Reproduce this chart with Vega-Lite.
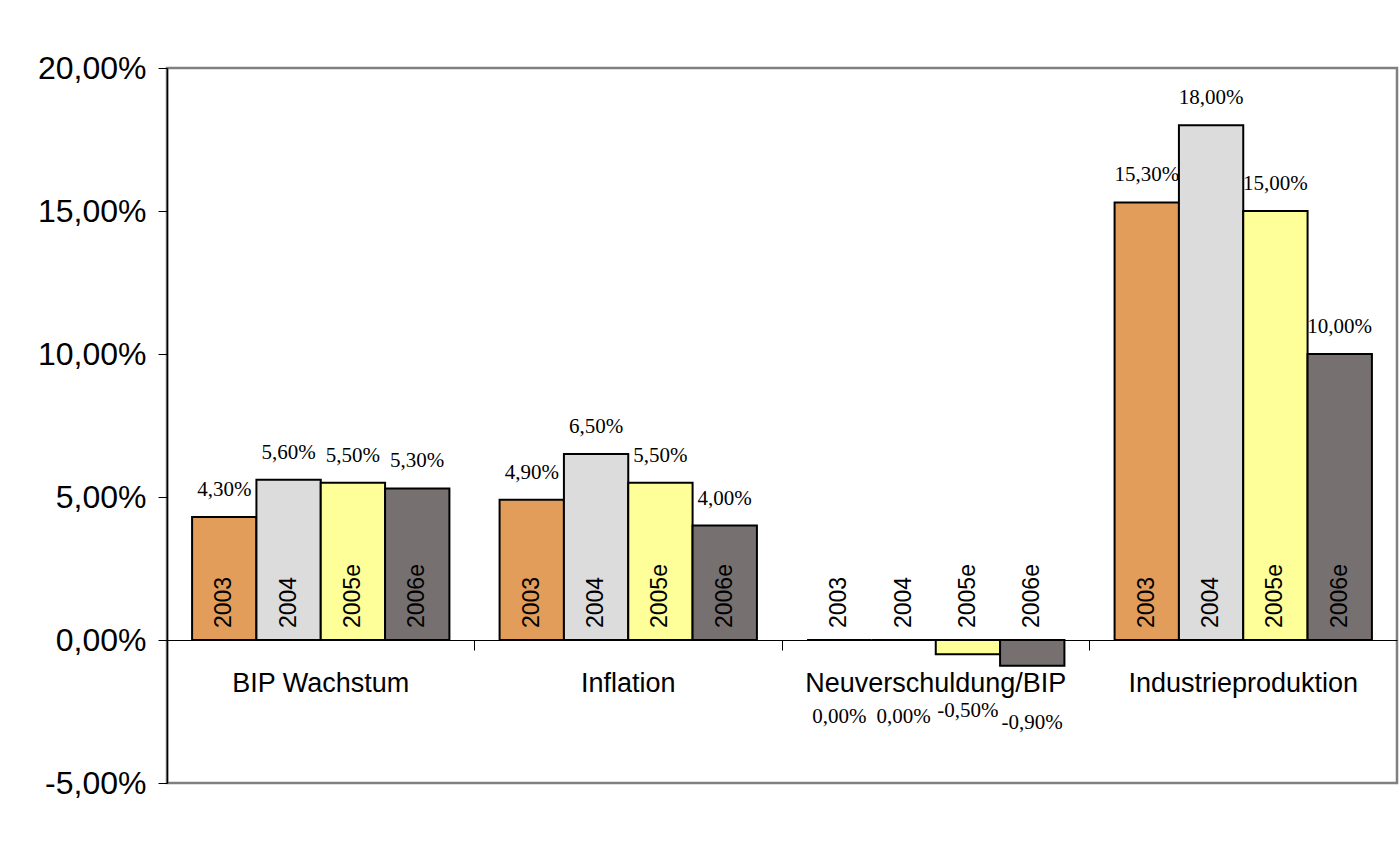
{
  "$schema": "https://vega.github.io/schema/vega-lite/v6.json",
  "width": 1230,
  "height": 715,
  "autosize": {"type": "none"},
  "padding": {"left": 167, "top": 68, "right": 2, "bottom": 60},
  "background": "white",
  "config": {
    "locale": {
      "number": {
        "decimal": ",",
        "thousands": ".",
        "grouping": [3],
        "currency": ["", " €"],
        "minus": "-"
      }
    },
    "view": {"stroke": "#808080", "strokeWidth": 2.5},
    "axis": {"grid": false}
  },
  "data": {
    "values": [
      {"indicator": "BIP Wachstum", "year": "2003", "value": 0.043},
      {"indicator": "BIP Wachstum", "year": "2004", "value": 0.056},
      {"indicator": "BIP Wachstum", "year": "2005e", "value": 0.055},
      {"indicator": "BIP Wachstum", "year": "2006e", "value": 0.053},
      {"indicator": "Inflation", "year": "2003", "value": 0.049},
      {"indicator": "Inflation", "year": "2004", "value": 0.065},
      {"indicator": "Inflation", "year": "2005e", "value": 0.055},
      {"indicator": "Inflation", "year": "2006e", "value": 0.04},
      {"indicator": "Neuverschuldung/BIP", "year": "2003", "value": 0.0},
      {"indicator": "Neuverschuldung/BIP", "year": "2004", "value": 0.0},
      {"indicator": "Neuverschuldung/BIP", "year": "2005e", "value": -0.005},
      {"indicator": "Neuverschuldung/BIP", "year": "2006e", "value": -0.009},
      {"indicator": "Industrieproduktion", "year": "2003", "value": 0.153},
      {"indicator": "Industrieproduktion", "year": "2004", "value": 0.18},
      {"indicator": "Industrieproduktion", "year": "2005e", "value": 0.15},
      {"indicator": "Industrieproduktion", "year": "2006e", "value": 0.10}
    ]
  },
  "encoding": {
    "x": {
      "field": "indicator",
      "type": "nominal",
      "sort": ["BIP Wachstum", "Inflation", "Neuverschuldung/BIP", "Industrieproduktion"],
      "scale": {"paddingInner": 0, "paddingOuter": 0},
      "axis": {
        "orient": "bottom",
        "offset": -143,
        "title": null,
        "labelAngle": 0,
        "labelLimit": 0,
        "labelFont": "Liberation Sans",
        "labelFontSize": 27,
        "labelColor": "black",
        "labelPadding": 20,
        "tickSize": 10,
        "tickColor": "black",
        "tickWidth": 1,
        "domainColor": "black",
        "domainWidth": 1,
        "bandPosition": 0,
        "zindex": 0
      }
    },
    "xOffset": {
      "field": "year",
      "type": "nominal",
      "sort": ["2003", "2004", "2005e", "2006e"],
      "scale": {"paddingInner": 0, "paddingOuter": 0.39}
    }
  },
  "layer": [
    {
      "mark": {"type": "bar", "stroke": "black", "strokeWidth": 2},
      "encoding": {
        "y": {
          "field": "value",
          "type": "quantitative",
          "scale": {"domain": [-0.05, 0.2], "nice": false, "zero": true},
          "axis": {
            "title": null,
            "values": [-0.05, 0, 0.05, 0.1, 0.15, 0.2],
            "format": ".2%",
            "labelFont": "Liberation Sans",
            "labelFontSize": 32,
            "labelColor": "black",
            "labelPadding": 12,
            "tickSize": 9,
            "tickColor": "black",
            "tickWidth": 1,
            "domainColor": "black",
            "domainWidth": 1.5,
            "zindex": 1
          }
        },
        "color": {
          "field": "year",
          "type": "nominal",
          "scale": {
            "domain": ["2003", "2004", "2005e", "2006e"],
            "range": ["#E39D5B", "#DCDCDC", "#FFFF99", "#767170"]
          },
          "legend": null
        }
      }
    },
    {
      "mark": {
        "type": "text",
        "angle": -90,
        "align": "left",
        "baseline": "middle",
        "dx": 12,
        "font": "Liberation Sans",
        "fontSize": 23,
        "color": "black"
      },
      "encoding": {
        "y": {"datum": 0, "type": "quantitative"},
        "text": {"field": "year", "type": "nominal"}
      }
    },
    {
      "transform": [{"filter": "datum.value > 0"}],
      "mark": {
        "type": "text",
        "baseline": "middle",
        "dy": -27,
        "font": "Liberation Serif",
        "fontSize": 21,
        "color": "black"
      },
      "encoding": {
        "y": {"field": "value", "type": "quantitative"},
        "text": {"field": "value", "type": "quantitative", "format": ".2%"}
      }
    },
    {
      "transform": [{"filter": "datum.value == 0"}],
      "mark": {
        "type": "text",
        "baseline": "middle",
        "dy": 77,
        "font": "Liberation Serif",
        "fontSize": 21,
        "color": "black"
      },
      "encoding": {
        "y": {"field": "value", "type": "quantitative"},
        "text": {"field": "value", "type": "quantitative", "format": ".2%"}
      }
    },
    {
      "transform": [{"filter": "datum.value < 0"}],
      "mark": {
        "type": "text",
        "baseline": "middle",
        "dy": 57,
        "font": "Liberation Serif",
        "fontSize": 21,
        "color": "black"
      },
      "encoding": {
        "y": {"field": "value", "type": "quantitative"},
        "text": {"field": "value", "type": "quantitative", "format": ".2%"}
      }
    }
  ]
}
